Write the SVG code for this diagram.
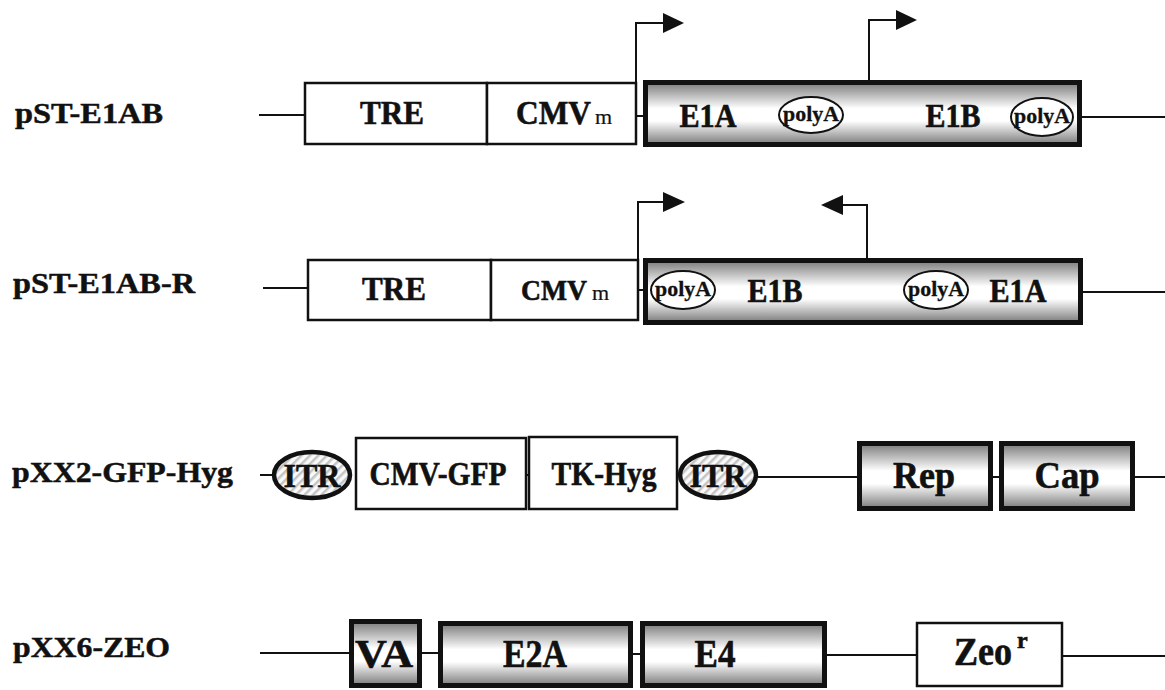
<svg xmlns="http://www.w3.org/2000/svg" width="1165" height="690" viewBox="0 0 1165 690">
<style>
.lbl{font-family:"Liberation Serif","Times New Roman",serif;font-weight:bold;font-size:30px;fill:#111;stroke:#111;stroke-width:0.5}
.t{font-family:"Liberation Serif","Times New Roman",serif;font-weight:bold;font-size:34px;fill:#111;stroke:#111;stroke-width:0.6;text-anchor:middle}
.t4{font-family:"Liberation Serif","Times New Roman",serif;font-weight:bold;font-size:40px;fill:#111;stroke:#111;stroke-width:0.6;text-anchor:middle}
.pa{font-family:"Liberation Serif","Times New Roman",serif;font-weight:bold;font-size:21px;fill:#111;stroke:#111;stroke-width:0.3;text-anchor:middle}
.sub{font-family:"Liberation Serif","Times New Roman",serif;font-weight:normal;font-size:22px;fill:#111;stroke:#111;stroke-width:0.2}
.ln{stroke:#111;stroke-width:2;fill:none}
.plain{fill:#fff;stroke:#111;stroke-width:2.5}
.heavy{fill:url(#grad);stroke:#111;stroke-width:5}
.itr{fill:url(#hatch);stroke:#111;stroke-width:4.5}
.pol{fill:#fff;stroke:#111;stroke-width:2}
.head{fill:#111}
</style>
<defs>
<linearGradient id="grad" x1="0" y1="0" x2="0" y2="1">
<stop offset="0" stop-color="#7a7a7a"/>
<stop offset="0.42" stop-color="#fff"/>
<stop offset="0.62" stop-color="#fff"/>
<stop offset="1" stop-color="#7a7a7a"/>
</linearGradient>
<pattern id="hatch" patternUnits="userSpaceOnUse" width="6" height="6" patternTransform="rotate(45)">
<rect width="6" height="6" fill="#fafafa"/>
<rect width="2.5" height="6" fill="#c4c4c4"/>
</pattern>
</defs>
<rect width="1165" height="690" fill="#fff"/>

<g id="labels">
<text class="lbl" x="15" y="123" textLength="148" lengthAdjust="spacingAndGlyphs">pST-E1AB</text>
<text class="lbl" x="13" y="293" textLength="182" lengthAdjust="spacingAndGlyphs">pST-E1AB-R</text>
<text class="lbl" x="12" y="482" textLength="221" lengthAdjust="spacingAndGlyphs">pXX2-GFP-Hyg</text>
<text class="lbl" x="13" y="657" textLength="157" lengthAdjust="spacingAndGlyphs">pXX6-ZEO</text>
</g>

<g id="connectors">
<line class="ln" x1="259" y1="115" x2="305" y2="115"/>
<line class="ln" x1="636" y1="116" x2="643" y2="116"/>
<line class="ln" x1="1082" y1="117" x2="1165" y2="117"/>
<path class="ln" d="M636 83 V23 H666"/>
<polygon class="head" points="663,13 684,23 663,33"/>
<path class="ln" d="M869 80 V20 H898"/>
<polygon class="head" points="896,10 917,20 896,30"/>

<line class="ln" x1="263" y1="288" x2="308" y2="288"/>
<line class="ln" x1="638" y1="290" x2="643" y2="290"/>
<line class="ln" x1="1083" y1="292" x2="1165" y2="292"/>
<path class="ln" d="M638 260 V202 H666"/>
<polygon class="head" points="663,192 685,202 663,212"/>
<path class="ln" d="M867 258 V205 H840"/>
<polygon class="head" points="843,195 821,205 843,215"/>

<line class="ln" x1="260" y1="475" x2="273" y2="475"/>
<line class="ln" x1="526" y1="475" x2="529" y2="475"/>
<line class="ln" x1="757" y1="477" x2="858" y2="477"/>
<line class="ln" x1="993" y1="477" x2="1000" y2="477"/>
<line class="ln" x1="1134" y1="477" x2="1165" y2="477"/>

<line class="ln" x1="260" y1="653" x2="350" y2="653"/>
<line class="ln" x1="421" y1="653" x2="439" y2="653"/>
<line class="ln" x1="632" y1="654" x2="641" y2="654"/>
<line class="ln" x1="826" y1="655" x2="917" y2="655"/>
<line class="ln" x1="1062" y1="656" x2="1165" y2="656"/>
</g>

<g id="r1-tre"><rect class="plain" x="305" y="83" width="182" height="61"/><text class="t" x="392" y="124" textLength="64" lengthAdjust="spacingAndGlyphs">TRE</text></g>
<g id="r1-cmv"><rect class="plain" x="487" y="83" width="149" height="61"/><text class="t" x="516" y="124" style="text-anchor:start" textLength="75" lengthAdjust="spacingAndGlyphs">CMV</text><text class="sub" x="595" y="124">m</text></g>
<g id="r1-e1ab">
<rect class="heavy" x="645.5" y="82.5" width="434" height="62"/>
<text class="t" x="708" y="127" textLength="57" lengthAdjust="spacingAndGlyphs">E1A</text>
<ellipse class="pol" cx="811" cy="115" rx="32" ry="18"/><text class="pa" x="811" y="121" textLength="56" lengthAdjust="spacingAndGlyphs">polyA</text>
<text class="t" x="953" y="127" textLength="55" lengthAdjust="spacingAndGlyphs">E1B</text>
<ellipse class="pol" cx="1042" cy="117" rx="31" ry="19"/><text class="pa" x="1042" y="123" textLength="56" lengthAdjust="spacingAndGlyphs">polyA</text>
</g>

<g id="r2-tre"><rect class="plain" x="308" y="260" width="183" height="60"/><text class="t" x="394" y="300" textLength="64" lengthAdjust="spacingAndGlyphs">TRE</text></g>
<g id="r2-cmv"><rect class="plain" x="491" y="260" width="147" height="60"/><text class="t" x="521" y="300" style="text-anchor:start;font-size:29px" textLength="66" lengthAdjust="spacingAndGlyphs">CMV</text><text class="sub" x="592" y="300">m</text></g>
<g id="r2-e1abr">
<rect class="heavy" x="645.5" y="260.5" width="435" height="62"/>
<ellipse class="pol" cx="683" cy="290" rx="32" ry="19"/><text class="pa" x="683" y="296" textLength="56" lengthAdjust="spacingAndGlyphs">polyA</text>
<text class="t" x="775" y="302" textLength="55" lengthAdjust="spacingAndGlyphs">E1B</text>
<ellipse class="pol" cx="936" cy="290" rx="32" ry="19"/><text class="pa" x="936" y="296" textLength="56" lengthAdjust="spacingAndGlyphs">polyA</text>
<text class="t" x="1018" y="302" textLength="57" lengthAdjust="spacingAndGlyphs">E1A</text>
</g>

<g id="r3-itr1"><ellipse class="itr" cx="312" cy="475" rx="38" ry="23"/><text class="t" x="312" y="487" textLength="57" lengthAdjust="spacingAndGlyphs">ITR</text></g>
<g id="r3-cmvgfp"><rect class="plain" x="356" y="438" width="170" height="71"/><text class="t" x="438" y="485" textLength="137" lengthAdjust="spacingAndGlyphs">CMV-GFP</text></g>
<g id="r3-tkhyg"><rect class="plain" x="529" y="437" width="148" height="72"/><text class="t" x="604" y="485" textLength="105" lengthAdjust="spacingAndGlyphs">TK-Hyg</text></g>
<g id="r3-itr2"><ellipse class="itr" cx="718" cy="475" rx="38" ry="23"/><text class="t" x="718" y="487" textLength="57" lengthAdjust="spacingAndGlyphs">ITR</text></g>
<g id="r3-rep"><rect class="heavy" x="859.5" y="443.5" width="131" height="65"/><text class="t" x="924" y="488" style="font-size:38px" textLength="62" lengthAdjust="spacingAndGlyphs">Rep</text></g>
<g id="r3-cap"><rect class="heavy" x="1001.5" y="443.5" width="131" height="65"/><text class="t" x="1067" y="488" style="font-size:38px" textLength="65" lengthAdjust="spacingAndGlyphs">Cap</text></g>

<g id="r4-va"><rect class="heavy" x="351.5" y="621.5" width="68" height="64"/><text class="t4" x="384" y="667" textLength="58" lengthAdjust="spacingAndGlyphs">VA</text></g>
<g id="r4-e2a"><rect class="heavy" x="440.5" y="623.5" width="190" height="62"/><text class="t4" x="535" y="667" textLength="64" lengthAdjust="spacingAndGlyphs">E2A</text></g>
<g id="r4-e4"><rect class="heavy" x="642.5" y="623.5" width="182" height="62"/><text class="t4" x="715" y="667" textLength="41" lengthAdjust="spacingAndGlyphs">E4</text></g>
<g id="r4-zeo"><rect class="plain" x="917" y="623" width="145" height="63"/><text class="t4" x="954" y="665" style="text-anchor:start" textLength="58" lengthAdjust="spacingAndGlyphs">Zeo</text><text class="t4" x="1017" y="648" style="text-anchor:start;font-size:24px">r</text></g>
</svg>
